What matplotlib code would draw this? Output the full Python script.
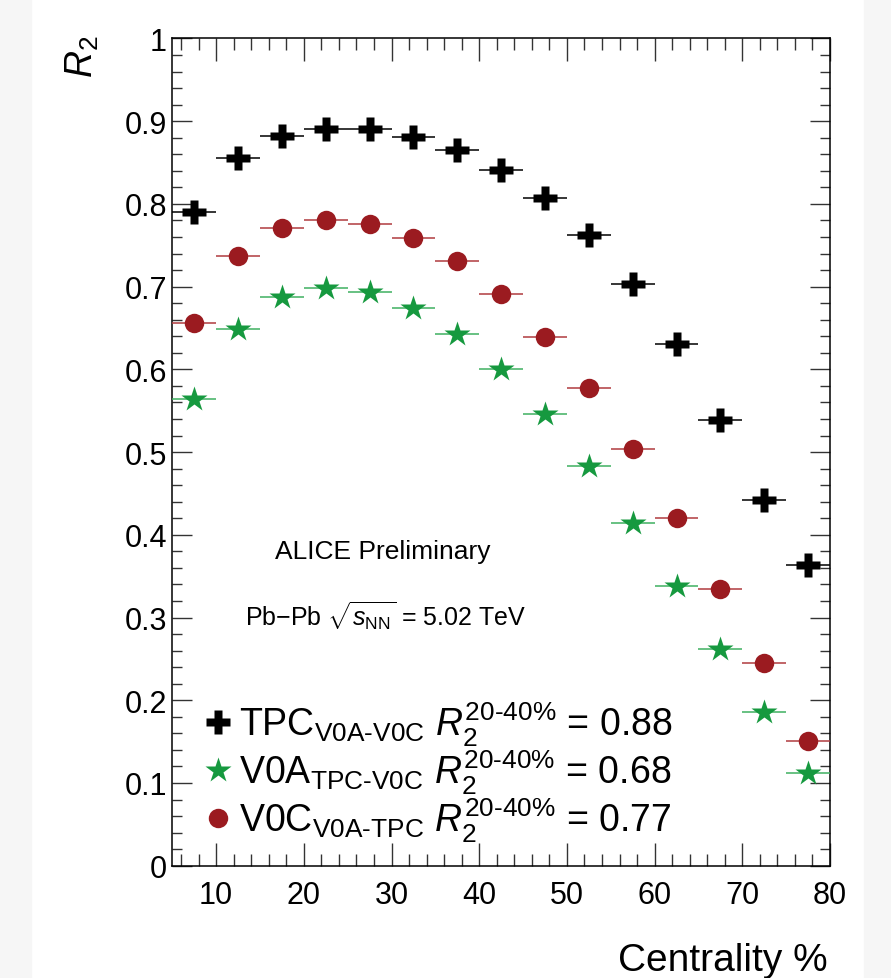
import numpy as np
import matplotlib
matplotlib.use("Agg")
import matplotlib.pyplot as plt
from matplotlib.patches import Rectangle
from matplotlib.lines import Line2D
from matplotlib.ticker import MultipleLocator

plt.rcParams['font.family'] = ['Liberation Sans', 'DejaVu Sans']
plt.rcParams['mathtext.fontset'] = 'custom'
plt.rcParams['mathtext.rm'] = 'Liberation Sans'
plt.rcParams['mathtext.it'] = 'Liberation Sans:italic'
plt.rcParams['mathtext.bf'] = 'Liberation Sans:bold'

# centrality bins (5% wide)
cent = np.array([7.5, 12.5, 17.5, 22.5, 27.5, 32.5, 37.5, 42.5, 47.5, 52.5, 57.5, 62.5, 67.5, 72.5, 77.5])
cent_err = np.full(cent.size, 2.5)

r2_tpc = [0.790, 0.856, 0.882, 0.891, 0.891, 0.881, 0.865, 0.841, 0.807, 0.763, 0.703, 0.631, 0.539, 0.442, 0.364]
r2_v0c = [0.656, 0.737, 0.771, 0.781, 0.776, 0.759, 0.731, 0.691, 0.639, 0.577, 0.504, 0.420, 0.334, 0.245, 0.151]
r2_v0a = [0.564, 0.649, 0.687, 0.698, 0.694, 0.674, 0.643, 0.600, 0.546, 0.483, 0.414, 0.338, 0.262, 0.186, 0.112]

labels = [r'TPC$_{\mathrm{V0A\text{-}V0C}}$ $R_2^{20\text{-}40\%}$ = 0.88',
          r'V0A$_{\mathrm{TPC\text{-}V0C}}$ $R_2^{20\text{-}40\%}$ = 0.68',
          r'V0C$_{\mathrm{V0A\text{-}TPC}}$ $R_2^{20\text{-}40\%}$ = 0.77']
ytick_labels = ['0', '0.1', '0.2', '0.3', '0.4', '0.5', '0.6', '0.7', '0.8', '0.9', '1']

black = '#000000'
green = '#16993f'
red = '#9b1b20'

fig = plt.figure(figsize=(8.91, 9.79), dpi=100)
fig.patches.append(Rectangle((0, 0), 31/891, 1, transform=fig.transFigure, color='#f6f6f6', zorder=0))
fig.patches.append(Rectangle((864/891, 0), 1, 1, transform=fig.transFigure, color='#f6f6f6', zorder=0))

ax = fig.add_axes([0.1934, 0.1147, 0.7381, 0.845])

ax.errorbar(cent, r2_tpc, xerr=cent_err, fmt='P', color=black, ms=17, mec='none',
            elinewidth=1.1, capsize=0, zorder=3)
ax.errorbar(cent, r2_v0a, xerr=cent_err, fmt='*', color=green, ecolor='#3fb060', ms=19, mec='none',
            elinewidth=1.1, capsize=0, zorder=3)
ax.errorbar(cent, r2_v0c, xerr=cent_err, fmt='o', color=red, ecolor='#b03a3e', ms=14, mec='none',
            elinewidth=1.1, capsize=0, zorder=3)

ax.set_xlim(5, 80)
ax.set_ylim(0, 1)
ax.xaxis.set_major_locator(MultipleLocator(10))
ax.xaxis.set_minor_locator(MultipleLocator(2))
ax.yaxis.set_minor_locator(MultipleLocator(0.02))
ax.set_yticks(np.arange(0, 1.01, 0.1))
ax.set_yticklabels(ytick_labels)

ax.tick_params(axis='both', which='both', direction='in', top=True, right=True, color='#333333', width=1.0)
ax.tick_params(axis='x', which='major', length=16.5, labelsize=22, pad=10)
ax.tick_params(axis='x', which='minor', length=8.6)
ax.tick_params(axis='y', which='major', length=14.4, labelsize=22, pad=4)
ax.tick_params(axis='y', which='minor', length=7.2)
for s in ax.spines.values():
    s.set_linewidth(1.1)

fig.text(828/891, 1 - 971/979, 'Centrality %', fontsize=28, ha='right', va='baseline')
fig.text(101/891, 1 - 36/979, r'$R_2$', fontsize=27, rotation=90, ha='right', va='top')

ax.text(0.32, 0.381, 'ALICE Preliminary', transform=ax.transAxes, fontsize=19, ha='center', va='center')
ax.text(0.111, 0.302, r'Pb$-$Pb $\sqrt{s_{\mathrm{NN}}}$ = 5.02 TeV', transform=ax.transAxes,
        fontsize=18, ha='left', va='center')

handles = [Line2D([], [], ls='none', marker='P', color=black, ms=17, mec='none'),
           Line2D([], [], ls='none', marker='*', color=green, ms=19, mec='none'),
           Line2D([], [], ls='none', marker='o', color=red, ms=14, mec='none')]
ax.legend(handles, labels, loc='upper left', bbox_to_anchor=(0.053, 0.201), frameon=False,
          fontsize=27, handlelength=0.6, handletextpad=0.25, labelspacing=0.0, borderpad=0,
          borderaxespad=0)

fig.savefig('out.png', dpi=100)
